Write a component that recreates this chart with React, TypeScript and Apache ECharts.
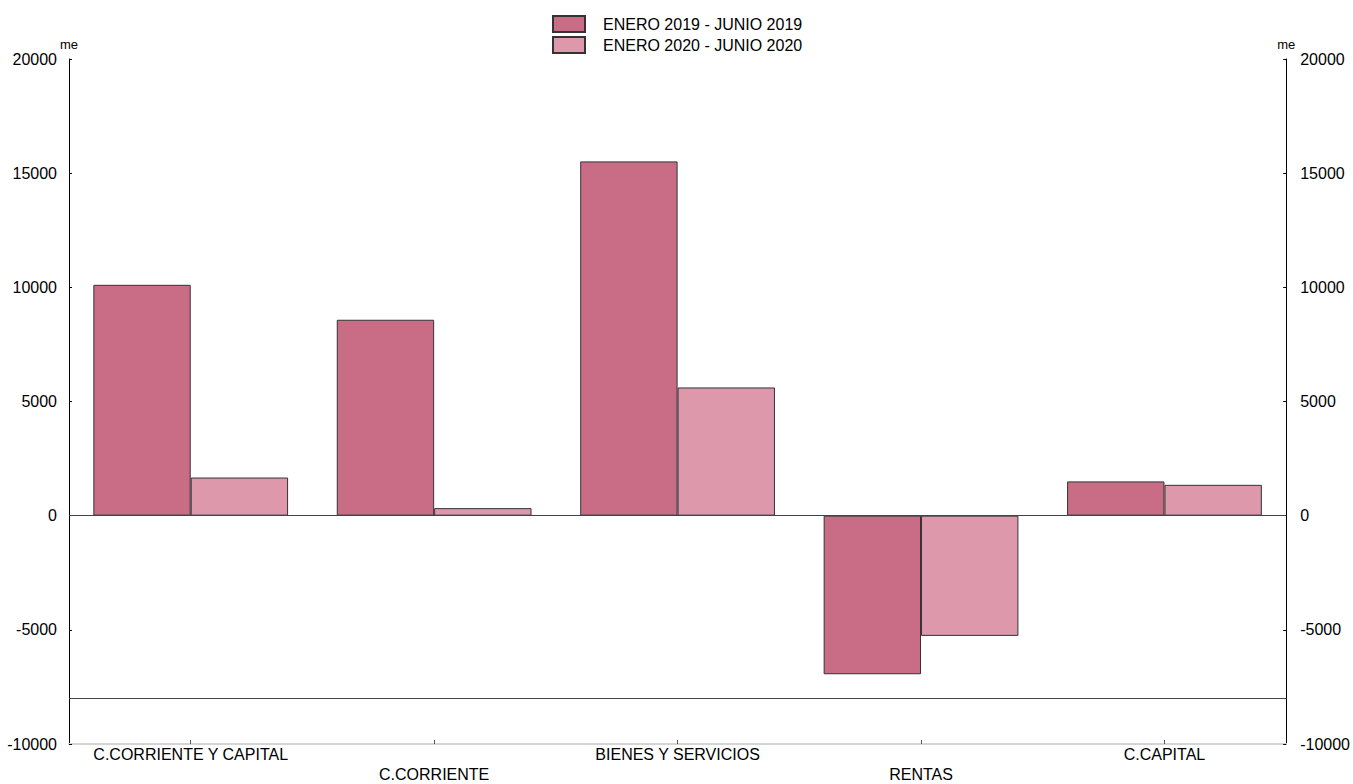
import React, { useEffect, useRef } from "react";
import * as echarts from "echarts";

const categories = ["C.CORRIENTE Y CAPITAL", "C.CORRIENTE", "BIENES Y SERVICIOS", "RENTAS", "C.CAPITAL"];
const seriesNames = ["ENERO 2019 - JUNIO 2019", "ENERO 2020 - JUNIO 2020"];
const values2019 = [10110, 8580, 15515, -6945, 1500];
const values2020 = [1670, 330, 5615, -5265, 1350];
const refLines = [0, -8000];
const yMin = -10000;
const yMax = 20000;
const yInterval = 5000;

const FONT = "'Liberation Sans', Arial, Helvetica, sans-serif";

export default function App() {
  const ref = useRef<HTMLDivElement>(null);
  useEffect(() => {
    if (!ref.current) return;
    const chart = echarts.init(ref.current, undefined, { renderer: "svg" });
    const yAxisBase = (pos: "left" | "right", margin: number) => ({
      type: "value",
      position: pos,
      min: yMin,
      max: yMax,
      interval: yInterval,
      name: "me",
      nameLocation: "end",
      nameGap: 3,
      nameTextStyle: { fontSize: 13, color: "#000", fontFamily: FONT, align: "center" },
      axisLine: { show: true, lineStyle: { color: "#000", width: 1 } },
      axisTick: { show: true, inside: true, length: 3, lineStyle: { color: "#000" } },
      axisLabel: {
        color: "#000",
        fontSize: 16,
        fontFamily: FONT,
        margin,
        formatter: (v: number) => String(v),
      },
      splitLine: { show: false },
    });
    chart.setOption({
      animation: false,
      textStyle: { fontFamily: FONT },
      legend: {
        data: seriesNames,
        orient: "vertical",
        left: 552,
        top: 15,
        padding: 0,
        itemWidth: 32,
        itemHeight: 16,
        itemGap: 3,
        icon: "rect",
        textStyle: {
          fontSize: 16,
          lineHeight: 16,
          color: "#000",
          fontFamily: FONT,
          padding: [0, 0, 0, 13],
        },
      },
      grid: { left: 69, right: 60, top: 59, bottom: 40, containLabel: false },
      xAxis: {
        type: "category",
        data: categories,
        position: "bottom",
        axisLine: { show: true, onZero: false, lineStyle: { color: "#d4d4d4", width: 2 } },
        axisTick: { show: true, inside: true, alignWithLabel: true, length: 4, lineStyle: { color: "#555" } },
        axisLabel: {
          interval: 0,
          color: "#000",
          fontSize: 16,
          fontFamily: FONT,
          margin: 0,
          lineHeight: 20,
          formatter: (v: string, i: number) => (i % 2 === 1 ? "\n" + v : v),
        },
        splitLine: { show: false },
      },
      yAxis: [yAxisBase("left", 12), yAxisBase("right", 14)],
      series: [
        {
          name: seriesNames[0],
          type: "bar",
          data: values2019,
          barGap: "0%",
          barCategoryGap: "20%",
          itemStyle: { color: "#c96d87", borderColor: "#333", borderWidth: 1 },
          markLine: {
            silent: true,
            symbol: "none",
            label: { show: false },
            lineStyle: { color: "#444", width: 1, type: "solid" },
            data: refLines.map((v) => ({ yAxis: v })),
          },
        },
        {
          name: seriesNames[1],
          type: "bar",
          data: values2020,
          barGap: "0%",
          barCategoryGap: "20%",
          itemStyle: { color: "#dd98ac", borderColor: "#333", borderWidth: 1 },
        },
      ],
    });
    return () => chart.dispose();
  }, []);
  return (
    <div
      ref={ref}
      style={{ position: "fixed", left: 0, top: 0, width: 1353, height: 784, background: "#fff" }}
    />
  );
}
